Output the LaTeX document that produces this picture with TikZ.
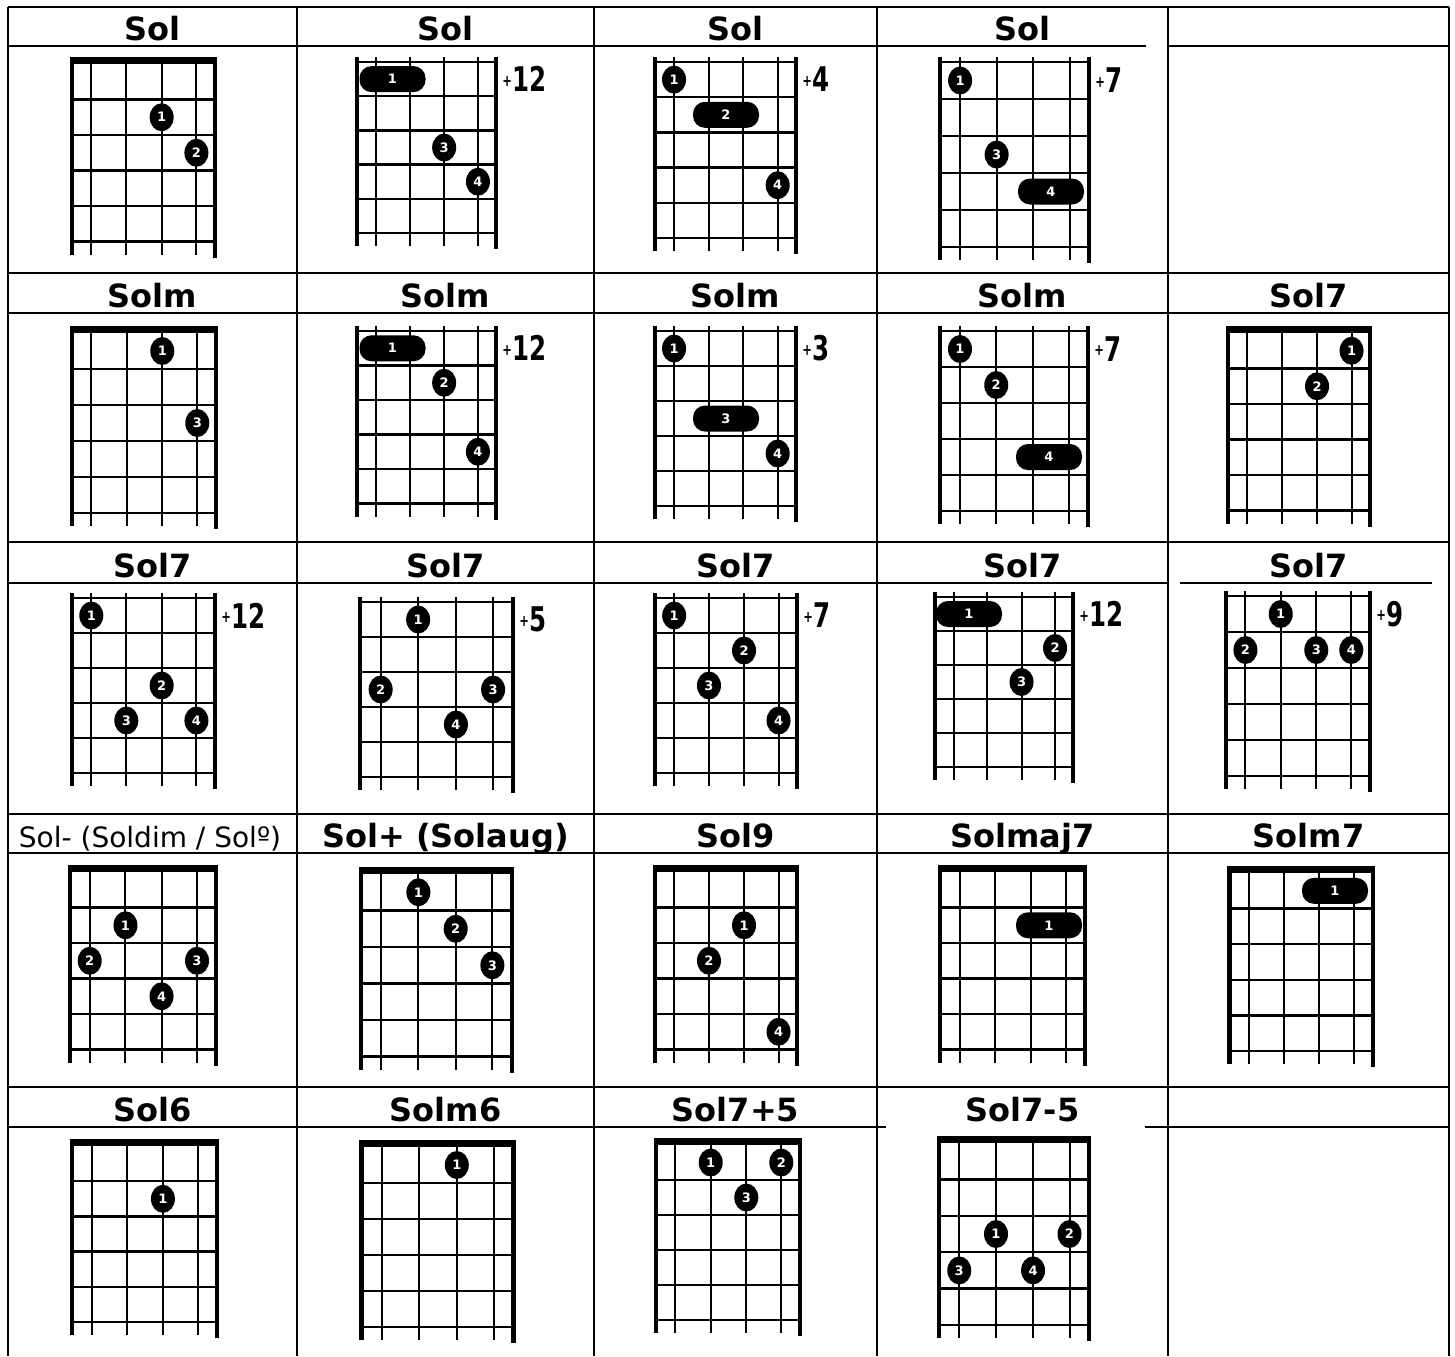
\documentclass[tikz,border=0pt]{standalone}
\usepackage{fontspec}
\setmainfont{DejaVu Sans}
\usetikzlibrary{shapes.geometric}
\newcommand\sfr[1]{\ifcase#1 0\or 0.135\or 0.38\or 0.627\or 0.87\or 1\fi}
\newcommand\board[5]{%
 \def\fL{#1}\def\fR{#2}\def\fT{#3}\def\fF{#4}%
 \pgfmathsetmacro\fW{#2-#1}%
 \pgfmathsetmacro\fB{#3+5*#4}%
 \ifnum#5=1 \pgfmathsetmacro\fS{#3-7}\else\pgfmathsetmacro\fS{#3-5}\fi
 \foreach \k in {1,...,5}{\draw[fretline] (\fL,{\fT+\k*\fF}) -- (\fR,{\fT+\k*\fF});}
 \foreach \f in {0.135,0.38,0.627,0.87}{\draw[strline] ({\fL+\f*\fW},\fS) -- ({\fL+\f*\fW},{\fB+13});}
 \ifnum#5=1 \fill ({\fL-2},\fS) rectangle ({\fR+2},\fT);\else \draw[fretline] (\fL,\fT) -- (\fR,\fT);\fi
 \draw[edgeline] (\fL,\fS) -- (\fL,{\fB+13});
 \draw[edgeline] (\fR,\fS) -- (\fR,{\fB+16});
}
\newcommand\fdot[4]{\edef\fr{\sfr{#2}}\node[fdotst] (#1) at ({\fL+\fr*\fW},{\fT+(#3-0.5)*\fF}) {#4};}
\newcommand\fbarre[4]{\node[barst] (#1) at (#2,{\fT+(#3-0.5)*\fF}) {#4};}
\newcommand\fpos[2]{\node[posst] (#1) at ({\fR+6},{\fT+0.5*\fF}) {\scalebox{0.72}[1]{\raisebox{0.3ex}{\fontsize{8}{8}\selectfont+}#2}};}
\begin{document}
\begin{tikzpicture}[x=0.5pt,y=-0.5pt,
 tab/.style={line width=1.1pt},
 tabthin/.style={line width=0.6pt},
 fretline/.style={line width=1.2pt},
 strline/.style={line width=1pt},
 edgeline/.style={line width=2.4pt},
 fdotst/.style={ellipse,fill=black,minimum width=12pt,minimum height=14pt,inner sep=0pt,text=white,font=\fontsize{6.5}{6.5}\selectfont\bfseries},
 barst/.style={rectangle,rounded corners=6pt,fill=black,minimum width=33pt,minimum height=13pt,inner sep=0pt,text=white,font=\fontsize{6.5}{6.5}\selectfont\bfseries},
 posst/.style={anchor=west,inner sep=0pt,font=\fontsize{17}{17}\selectfont\bfseries},
 hd/.style={anchor=base,inner sep=0pt,font=\fontsize{16}{19}\selectfont\bfseries},
 hdr/.style={anchor=base,inner sep=0pt,font=\fontsize{14}{17}\selectfont}]
\useasboundingbox (0,0) rectangle (1455,1356);
% table
\draw[tab] (8,7) -- (1449,7);
\draw[tab] (8,46) -- (877,46); \draw[tabthin] (877,46) -- (1146,46); \draw[tab] (1168,46) -- (1449,46);
\draw[tab] (8,273) -- (1449,273);
\draw[tab] (8,313) -- (1449,313);
\draw[tab] (8,542) -- (1449,542);
\draw[tab] (8,583) -- (1168,583); \draw[tabthin] (1180,583) -- (1432,583);
\draw[tab] (8,814) -- (1449,814);
\draw[tab] (8,853) -- (1449,853);
\draw[tab] (8,1087) -- (1449,1087);
\draw[tab] (8,1127) -- (886,1127); \draw[tab] (1145,1127) -- (1449,1127);
\foreach \x in {8,297,594,877,1168,1449} \draw[tab] (\x,7) -- (\x,1356);
% headers
\node[hd] (h11) at (152.5,40) {Sol};
\node[hd] (h12) at (445.5,40) {Sol};
\node[hd] (h13) at (735.5,40) {Sol};
\node[hd] (h14) at (1022.5,40) {Sol};
\node[hd] (h21) at (152.5,307) {Solm};
\node[hd] (h22) at (445.5,307) {Solm};
\node[hd] (h23) at (735.5,307) {Solm};
\node[hd] (h24) at (1022.5,307) {Solm};
\node[hd] (h25) at (1308.5,307) {Sol7};
\node[hd] (h31) at (152.5,577) {Sol7};
\node[hd] (h32) at (445.5,577) {Sol7};
\node[hd] (h33) at (735.5,577) {Sol7};
\node[hd] (h34) at (1022.5,577) {Sol7};
\node[hd] (h35) at (1308.5,577) {Sol7};
\node[hdr] (h41) at (150,847) {Sol- (Soldim / Solº)};
\node[hd] (h42) at (445.5,847) {Sol+ (Solaug)};
\node[hd] (h43) at (735.5,847) {Sol9};
\node[hd] (h44) at (1022.5,847) {Solmaj7};
\node[hd] (h45) at (1308.5,847) {Solm7};
\node[hd] (h51) at (152.5,1121) {Sol6};
\node[hd] (h52) at (445.5,1121) {Solm6};
\node[hd] (h53) at (735.5,1121) {Sol7+5};
\node[hd] (h54) at (1022.5,1121) {Sol7-5};
% row 1
\board{72}{215}{64}{35.5}{1}
\fdot{a1}{3}{2}{1}\fdot{a2}{4}{3}{2}
\board{357}{496}{62}{34.2}{0}
\fbarre{b1}{392.5}{1}{1}\fdot{b3}{3}{3}{3}\fdot{b4}{4}{4}{4}\fpos{bp}{12}
\board{655}{796}{62}{35.2}{0}
\fdot{c1}{1}{1}{1}\fbarre{c2}{726}{2}{2}\fdot{c4}{4}{4}{4}\fpos{cp}{4}
\board{940}{1089}{62}{37}{0}
\fdot{e1}{1}{1}{1}\fdot{e3}{2}{3}{3}\fbarre{e4}{1051}{4}{4}\fpos{ep}{7}
% row 2
\board{72}{216}{333}{36}{1}
\fdot{f1}{3}{1}{1}\fdot{f3}{4}{3}{3}
\board{357}{496}{331}{34.5}{0}
\fbarre{g1}{392.5}{1}{1}\fdot{g2}{3}{2}{2}\fdot{g4}{4}{4}{4}\fpos{gp}{12}
\board{655}{796}{331}{35}{0}
\fdot{i1}{1}{1}{1}\fbarre{i3}{726}{3}{3}\fdot{i4}{4}{4}{4}\fpos{ip}{3}
\board{940}{1088}{331}{36}{0}
\fdot{j1}{1}{1}{1}\fdot{j2}{2}{2}{2}\fbarre{j4}{1049}{4}{4}\fpos{jp}{7}
\board{1228}{1370}{333}{35.5}{1}
\fdot{k1}{4}{1}{1}\fdot{k2}{3}{2}{2}
% row 3
\board{72}{215}{598}{35}{0}
\fdot{l1}{1}{1}{1}\fdot{l2}{3}{3}{2}\fdot{l3}{2}{4}{3}\fdot{l4}{4}{4}{4}\fpos{lp}{12}
\board{360}{513}{602}{35}{0}
\fdot{m1}{2}{1}{1}\fdot{m2}{1}{3}{2}\fdot{m3}{4}{3}{3}\fdot{m4}{3}{4}{4}\fpos{mp}{5}
\board{655}{797}{598}{35}{0}
\fdot{n1}{1}{1}{1}\fdot{n2}{3}{2}{2}\fdot{n3}{2}{3}{3}\fdot{n4}{4}{4}{4}\fpos{np}{7}
\board{935}{1073}{597}{34}{0}
\fbarre{o1}{969}{1}{1}\fdot{o2}{4}{2}{2}\fdot{o3}{3}{3}{3}\fpos{op}{12}
\board{1226}{1370}{596}{36}{0}
\fdot{p1}{2}{1}{1}\fdot{p2}{1}{2}{2}\fdot{p3}{3}{2}{3}\fdot{p4}{4}{2}{4}\fpos{pp}{9}
% row 4
\board{70}{216}{872}{35.5}{1}
\fdot{q1}{2}{2}{1}\fdot{q2}{1}{3}{2}\fdot{q3}{4}{3}{3}\fdot{q4}{3}{4}{4}
\board{361}{512}{874}{36.5}{1}
\fdot{r1}{2}{1}{1}\fdot{r2}{3}{2}{2}\fdot{r3}{4}{3}{3}
\board{655}{797}{872}{35.5}{1}
\fdot{s1}{3}{2}{1}\fdot{s2}{2}{3}{2}\fdot{s4}{4}{5}{4}
\board{940}{1085}{872}{35.5}{1}
\fbarre{t1}{1049}{2}{1}
\board{1229.5}{1373}{873}{35.6}{1}
\fbarre{u1}{1335}{1}{1}
% row 5
\board{72}{217}{1146}{35.2}{1}
\fdot{v1}{3}{2}{1}
\board{361.5}{513.5}{1147}{36}{1}
\fdot{w1}{3}{1}{1}
\board{656}{800}{1145}{35}{1}
\fdot{x1}{2}{1}{1}\fdot{x2}{4}{1}{2}\fdot{x3}{3}{2}{3}
\board{939}{1089}{1143}{36.4}{1}
\fdot{y1}{2}{3}{1}\fdot{y2}{4}{3}{2}\fdot{y3}{1}{4}{3}\fdot{y4}{3}{4}{4}
\end{tikzpicture}
\end{document}
